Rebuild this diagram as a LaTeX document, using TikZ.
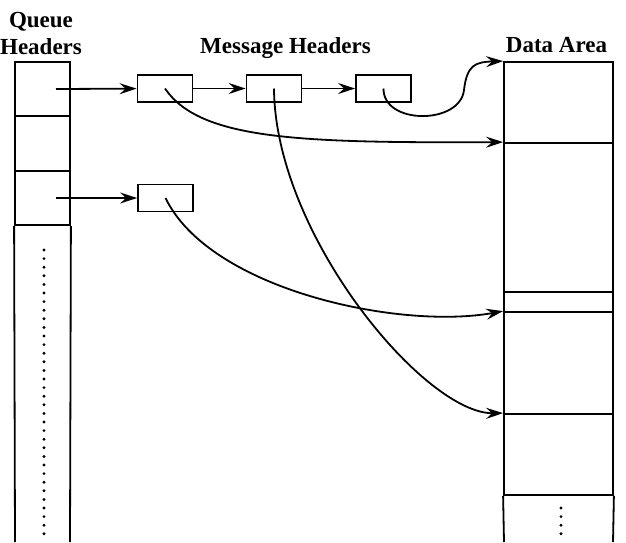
\documentclass[tikz,border=0pt]{standalone}
\usepackage{fontspec}
\setmainfont{Liberation Serif}
\usetikzlibrary{arrows.meta}

\begin{document}
\begin{tikzpicture}[x=1pt,y=-1pt,
  title/.style={font=\fontsize{23}{27}\selectfont\bfseries, inner sep=0pt},
  frame/.style={line width=1.8pt},
  qslot/.style={draw, frame, inner sep=0pt, minimum width=55pt, minimum height=54.5pt},
  dslot/.style={draw, frame, inner sep=0pt, minimum width=109pt},
  msg/.style={draw, frame, inner sep=0pt, minimum width=55pt, minimum height=27pt},
  ptr/.style={line width=1.8pt, -{Stealth[length=17pt,width=11pt,inset=6pt]}},
  dots/.style={line width=3.2pt, line cap=round, dash pattern=on 0pt off 8.6pt}]
\useasboundingbox (0,0) rectangle (626,542);

% titles
\node[title, align=center, anchor=base] (QTITLE) at (41,54) {Queue\\Headers};
\node[title, anchor=base] (MTITLE) at (285.5,53) {Message Headers};
\node[title, anchor=base] (DTITLE) at (556.5,52) {Data Area};

% queue headers
\node[qslot] (Q1) at (42.5,89) {};
\node[qslot] (Q2) at (42.5,143.5) {};
\node[qslot] (Q3) at (42.5,198) {};
\draw[frame] (Q3.south west) -- (15,542);
\draw[frame] (Q3.south east) -- (70,542);
\draw[dots] (44,250) -- (44,542);

% message headers
\node[msg] (MSG1) at (165,88.5) {};
\node[msg] (MSG2) at (274,88.5) {};
\node[msg] (MSG3) at (383.5,88.5) {};
\node[msg] (MSG4) at (165.5,198) {};

% data area
\node[dslot, minimum height=81pt] (D1) at (558.5,102.5) {};
\node[dslot, minimum height=149pt] (D2) at (558.5,217.5) {};
\node[dslot, minimum height=20pt] (D3) at (558.5,302) {};
\node[dslot, minimum height=102pt] (D4) at (558.5,363) {};
\node[dslot, minimum height=81pt] (D5) at (558.5,454.5) {};
\draw[frame] (D5.south west) -- (504,542);
\draw[frame] (D5.south east) -- (613,542);
\draw[dots] (561,508) -- (561,542);

% pointers
\coordinate (QP1) at (56,89);
\coordinate (QP3) at (56,198);
\draw[ptr] (QP1) -- (MSG1);
\draw[ptr] (MSG1) -- (MSG2);
\draw[ptr] (MSG2) -- (MSG3);
\draw[ptr] (QP3) -- (MSG4);
\draw[ptr] (MSG3.center) .. controls (383,125) and (460,125) .. (464,90)
  .. controls (467,65) and (475,62) .. (D1.north west);
\draw[ptr] (MSG1.center) .. controls (200,140) and (300,143) .. (D2.north west);
\draw[ptr] (MSG2.center) .. controls (275,235) and (425,414) .. (D5.north west);
\draw[ptr] (MSG4.center) .. controls (210,290) and (400,330) .. (D4.north west);
\end{tikzpicture}
\end{document}
